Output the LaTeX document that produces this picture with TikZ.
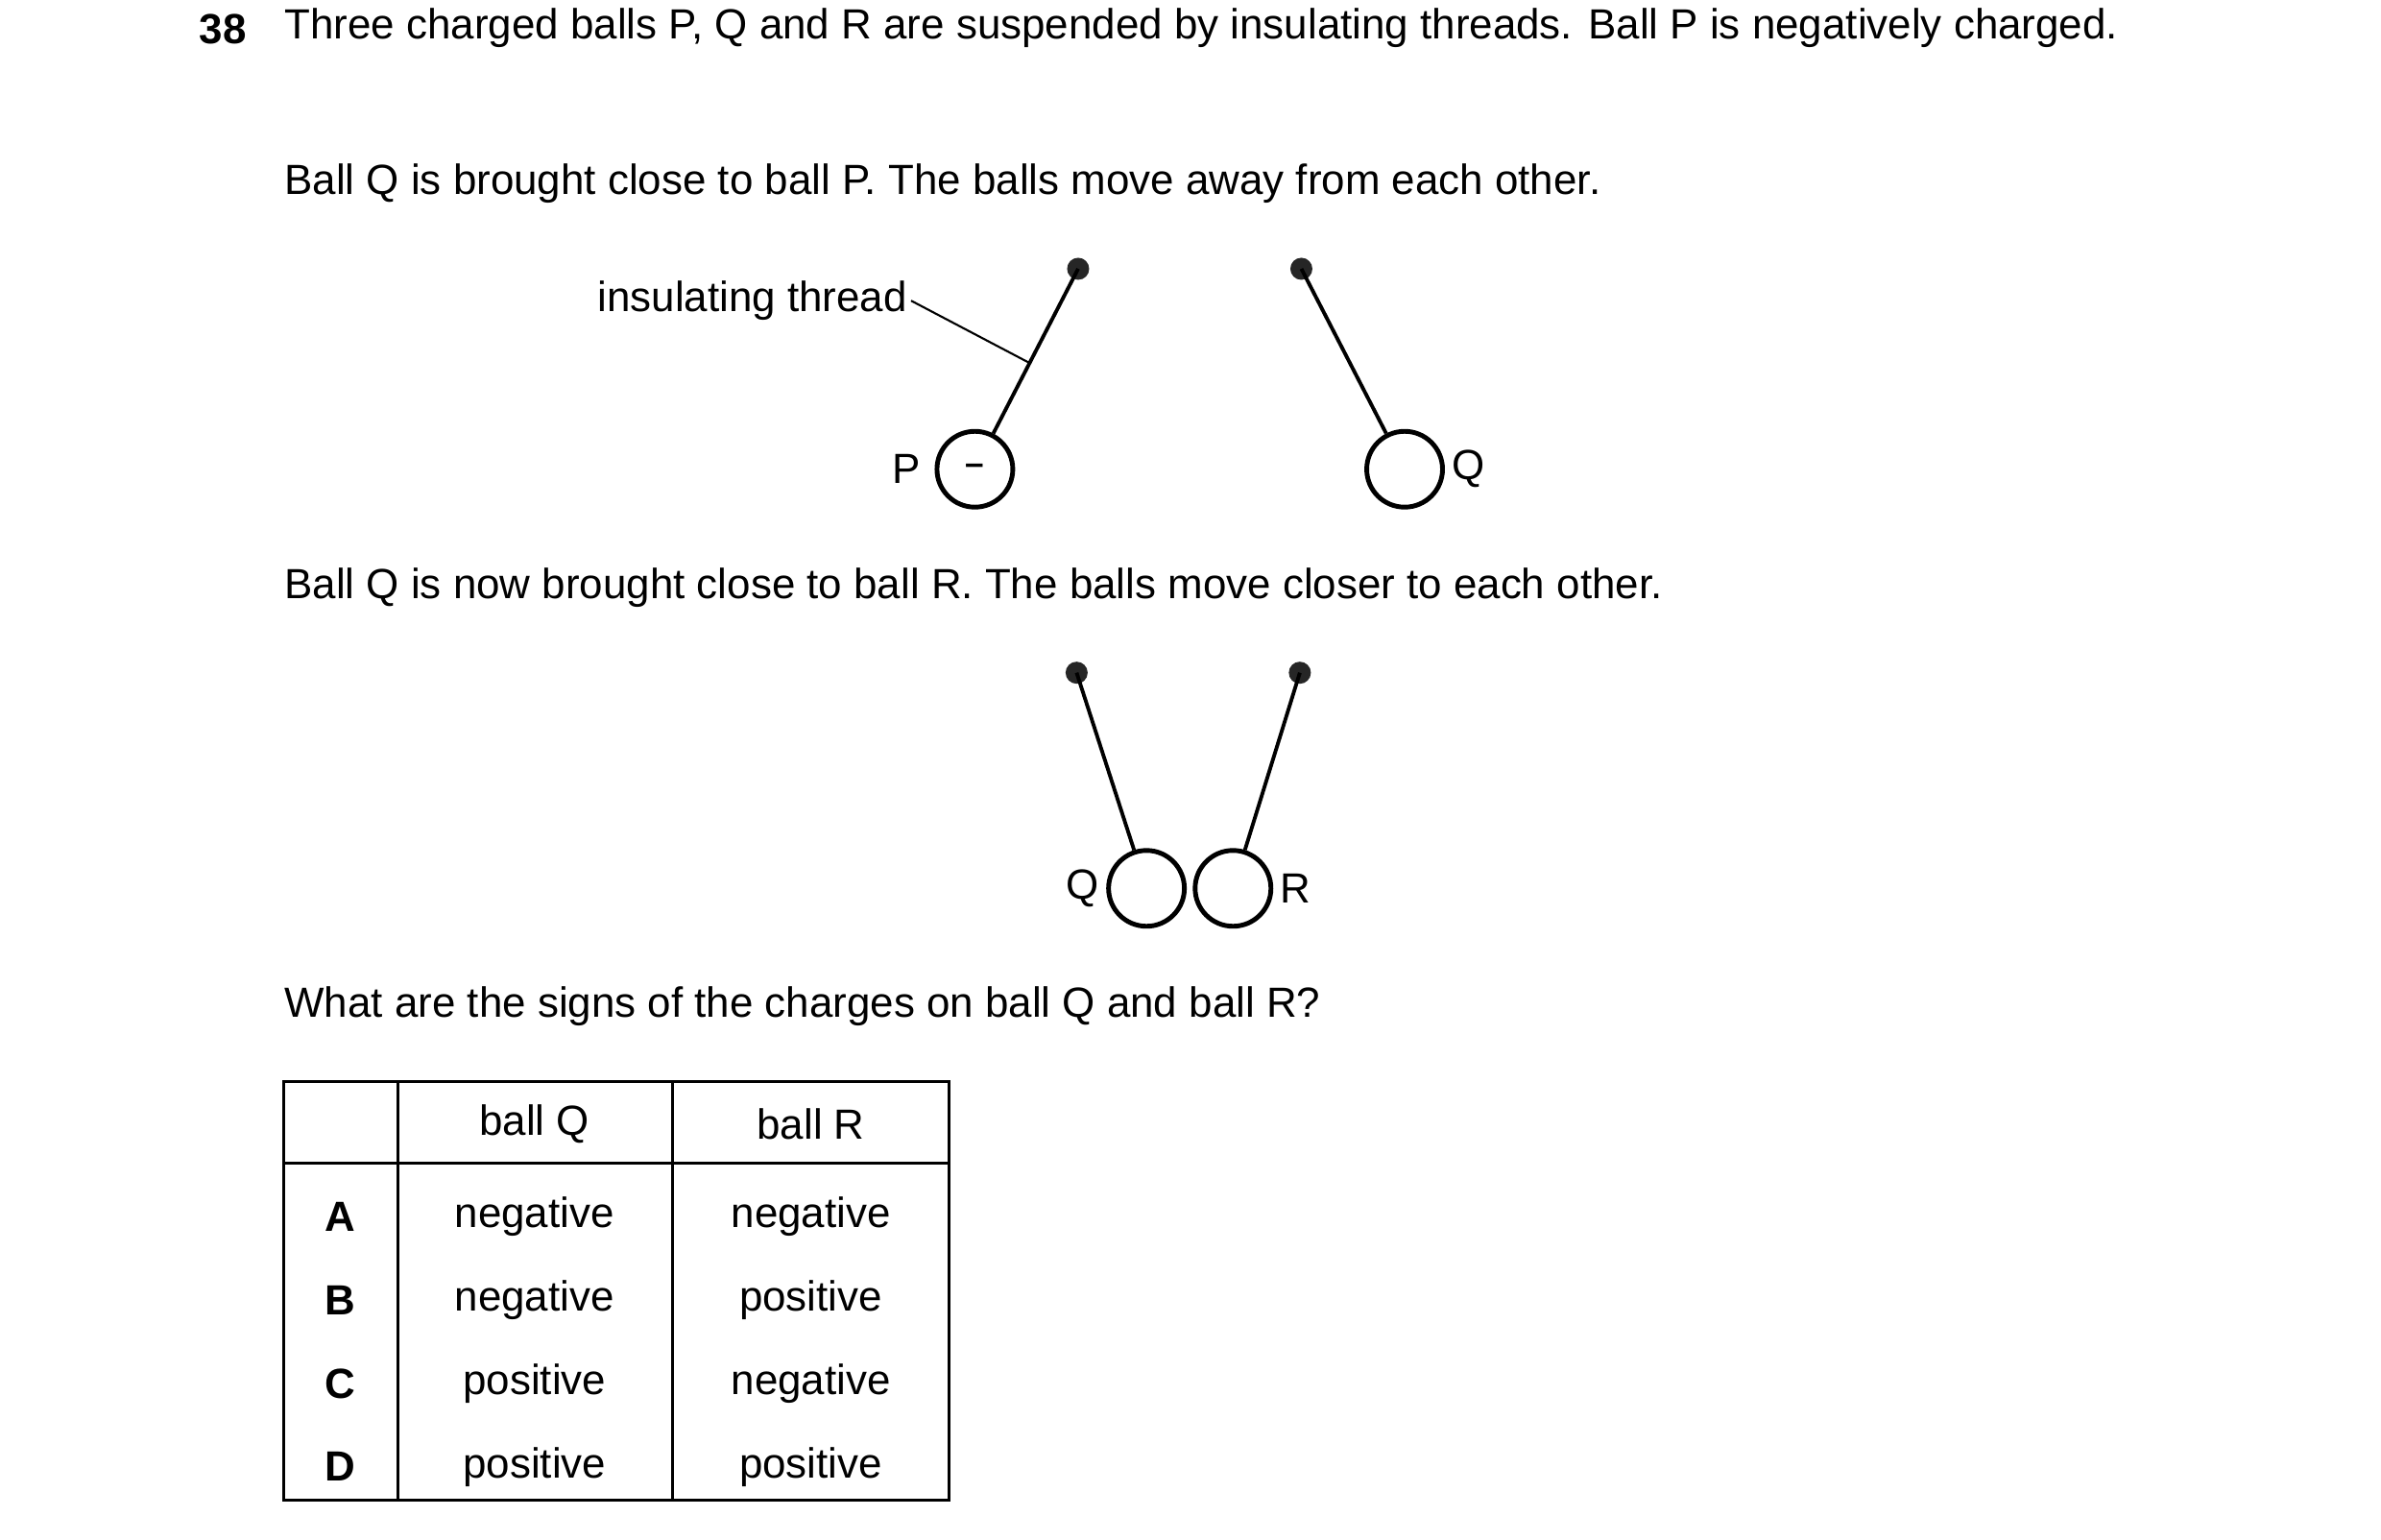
\documentclass[tikz,border=0pt]{standalone}
\usepackage{fontspec}
\setmainfont{Liberation Sans}
\usetikzlibrary{positioning, calc}

\begin{document}
\begin{tikzpicture}[
  x=0.01582cm, y=-0.01582cm,
  txt/.style={anchor=base west, inner sep=0pt, font=\fontsize{12.5}{15}\selectfont},
  ball/.style={circle, draw, line width=1.4pt, minimum size=0.79cm, inner sep=0pt},
  pivot/.style={circle, fill=black!85, minimum size=0.23cm, inner sep=0pt},
  thread/.style={line width=1.1pt},
  lbl/.style={font=\fontsize{12.5}{15}\selectfont, inner sep=1pt},
  cell/.style={font=\fontsize{12.5}{15}\selectfont, inner sep=0pt}
]
  \useasboundingbox (0,0) rectangle (1568,1014);

  % question text
  \node[txt, font=\fontsize{12.5}{15}\selectfont\bfseries] (num) at (131,29) {38};
  \node[txt, text width=19.77cm, align=justify, anchor=north west] (q1) at (187,5)
    {Three charged balls P, Q and R are suspended by insulating threads. Ball P is negatively charged.};
  \node[txt] (q2) at (187,128) {Ball Q is brought close to ball P. The balls move away from each other.};
  \node[txt] (q3) at (187,394) {Ball Q is now brought close to ball R. The balls move closer to each other.};
  \node[txt] (q4) at (187,670) {What are the signs of the charges on ball Q and ball R?};

  % first pair
  \node[pivot] (pivP) at (710,177) {};
  \node[pivot] (pivQ) at (857,177) {};
  \node[ball] (P) at (642,309) {\textbf{--}};
  \node[ball] (Q) at (925,309) {};
  \draw[thread] (pivP.center) -- (P);
  \draw[thread] (pivQ.center) -- (Q);
  \node[lbl, left=3pt of P] (lP) {P};
  \node[lbl, right=1pt of Q] (lQ) {Q};
  \coordinate (mid) at ($(pivP)!0.47!(P)$);
  \node[lbl, anchor=east] (ins) at (600,198) {insulating thread};
  \draw[line width=0.6pt] (ins.east) -- (mid);

  % second pair
  \node[pivot] (pivQ2) at (709,443) {};
  \node[pivot] (pivR) at (856,443) {};
  \node[ball] (Q2) at (755,585) {};
  \node[ball] (R) at (812,585) {};
  \draw[thread] (pivQ2.center) -- (Q2);
  \draw[thread] (pivR.center) -- (R);
  \node[lbl, left=1pt of Q2] (lQ2) {Q};
  \node[lbl, right=1pt of R] (lR) {R};

  % table
  \draw[line width=0.8pt] (187,712) rectangle (625,988);
  \draw[line width=0.8pt] (262,712) -- (262,988);
  \draw[line width=0.8pt] (443,712) -- (443,988);
  \draw[line width=0.8pt] (187,766) -- (625,766);
  \node[cell] (hQ) at (352,740) {ball Q};
  \node[cell] (hR) at (534,740) {ball R};
  \foreach \l/\a/\b [count=\i from 0] in {A/negative/negative, B/negative/positive, C/positive/negative, D/positive/positive}{
    \node[cell, font=\fontsize{12.5}{15}\selectfont\bfseries] (k\i) at (224,801+55*\i) {\l};
    \node[cell] (a\i) at (352,801+55*\i) {\a};
    \node[cell] (b\i) at (534,801+55*\i) {\b};
  }
\end{tikzpicture}
\end{document}
